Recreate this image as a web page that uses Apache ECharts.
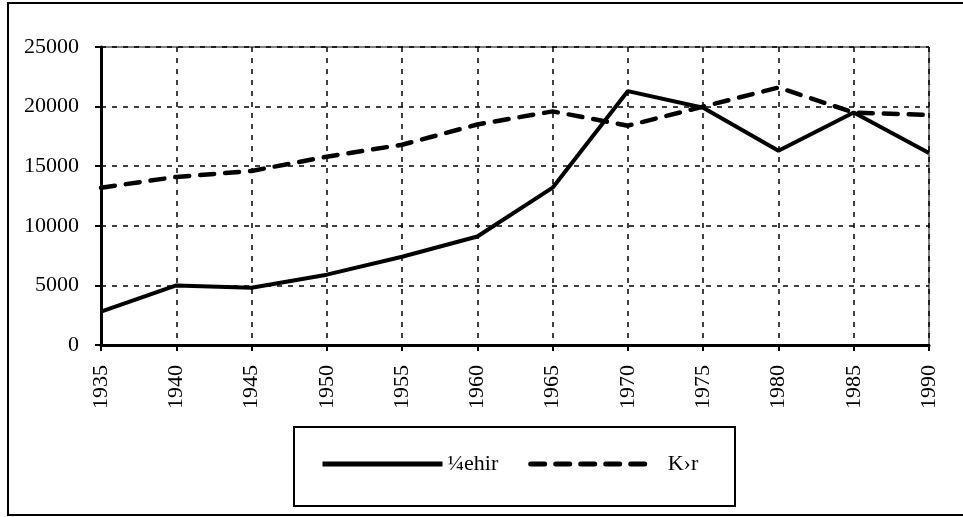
<!DOCTYPE html>
<html>
<head>
<meta charset="utf-8">
<script src="https://cdn.jsdelivr.net/npm/echarts@6/dist/echarts.min.js"></script>
<style>
  html, body { margin: 0; padding: 0; background: #fff; }
  #chart { width: 963px; height: 517px; }
</style>
</head>
<body>
<div id="chart"></div>
<script>
// years on the x axis
const years = ['1935', '1940', '1945', '1950', '1955', '1960', '1965', '1970', '1975', '1980', '1985', '1990'];
// series values
const sehir = [2800, 5000, 4800, 5900, 7400, 9100, 13200, 21300, 19900, 16300, 19500, 16100];
const kir = [13200, 14100, 14600, 15800, 16800, 18500, 19600, 18400, 20000, 21600, 19500, 19300];
const seriesNames = ['¼ehir', 'K›r'];

const font = '"Liberation Serif", "Times New Roman", serif';
const chart = echarts.init(document.getElementById('chart'));

chart.setOption({
  animation: false,
  backgroundColor: '#fff',
  grid: {
    left: 101, right: 34, top: 47, bottom: 172,
    show: true, borderColor: '#000', borderWidth: 1
  },
  legend: {
    left: 315, top: 448,
    itemWidth: 120, itemHeight: 22, itemGap: 30,
    itemStyle: { opacity: 0 },
    lineStyle: { width: 5 },
    textStyle: { fontFamily: font, fontSize: 22, color: '#000' },
    data: [
      { name: seriesNames[0] },
      { name: seriesNames[1], textStyle: { padding: [0, 0, 0, 12] } }
    ]
  },
  graphic: [
    // frame round the whole chart
    { type: 'rect', shape: { x: 8, y: 3, width: 990, height: 512 },
      style: { fill: 'none', stroke: '#000', lineWidth: 2 }, silent: true },
    // legend box
    { type: 'rect', shape: { x: 294, y: 427, width: 441, height: 79 },
      style: { fill: 'none', stroke: '#000', lineWidth: 2 }, silent: true }
  ],
  xAxis: {
    type: 'category',
    data: years,
    boundaryGap: false,
    axisLine: { lineStyle: { color: '#000', width: 3 } },
    axisTick: { alignWithLabel: true, length: 6, lineStyle: { color: '#000', width: 2 } },
    axisLabel: { rotate: 90, margin: 20, fontFamily: font, fontSize: 22, color: '#000' },
    splitLine: { show: true, lineStyle: { color: '#000', width: 1.5, type: [5, 6] } }
  },
  yAxis: {
    type: 'value',
    min: 0, max: 25000, interval: 5000,
    axisLine: { show: true, lineStyle: { color: '#000', width: 3 } },
    axisTick: { show: true, length: 6, lineStyle: { color: '#000', width: 2 } },
    axisLabel: { margin: 22, fontFamily: font, fontSize: 22, color: '#000',
      formatter: v => String(v) },
    splitLine: { show: true, lineStyle: { color: '#000', width: 1.5, type: [5, 6] } }
  },
  series: [
    {
      name: seriesNames[0], type: 'line', data: sehir,
      symbol: 'none', color: '#000',
      lineStyle: { color: '#000', width: 4 }
    },
    {
      name: seriesNames[1], type: 'line', data: kir,
      symbol: 'none', color: '#000',
      lineStyle: { color: '#000', width: 4.5, type: [14, 11], cap: 'round' }
    }
  ]
});
</script>
</body>
</html>
